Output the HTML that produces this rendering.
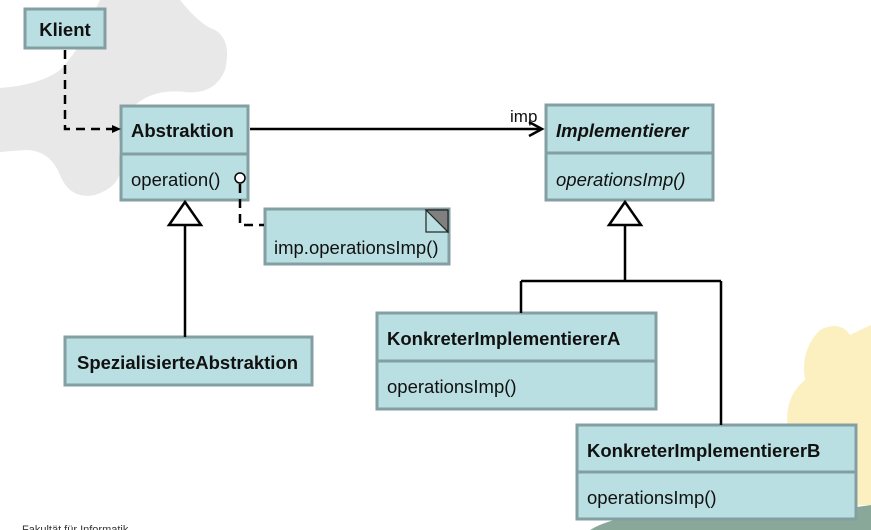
<!DOCTYPE html>
<html><head><meta charset="utf-8"><style>
html,body{margin:0;padding:0;background:#fff;}
svg{display:block;font-family:"Liberation Sans",Arial,sans-serif;}
</style></head><body>
<svg width="871" height="530" viewBox="0 0 871 530" xmlns="http://www.w3.org/2000/svg">
<path d="M100,0 L180,0 Q200,25 215,30 Q232,40 225,70 Q215,95 185,92 Q150,88 130,110 Q115,135 120,160 Q125,185 95,195 Q70,200 60,175 Q50,150 25,150 L0,152 L0,88 Q40,85 60,70 Q80,50 90,20 Z" fill="#e8e8e8"/>
<path d="M820,330 Q840,320 850,335 Q860,330 871,325 L871,505 L840,505 Q810,480 790,440 Q780,400 805,380 Q800,350 820,330 Z" fill="#fdf0c0"/>
<path d="M590,530 Q620,512 680,515 Q740,505 800,515 L871,505 L871,530 Z" fill="#8aa89a"/>
<text x="22" y="533" font-size="11" fill="#333">Fakultät für Informatik</text>

<g stroke="#839fa1" stroke-width="3" fill="#badfe2">
<rect x="25" y="9" width="80" height="39"/>
<rect x="121" y="106" width="127" height="94"/>
<line x1="121" y1="154" x2="248" y2="154"/>
<rect x="265" y="209" width="184" height="55"/>
<rect x="546" y="105" width="167" height="95"/>
<line x1="546" y1="153" x2="713" y2="153"/>
<rect x="65" y="337" width="247" height="48"/>
<rect x="377" y="313" width="279" height="96"/>
<line x1="377" y1="361" x2="656" y2="361"/>
<rect x="577" y="425" width="279" height="94"/>
<line x1="577" y1="472" x2="856" y2="472"/>
</g>
<rect x="426" y="210" width="22" height="22" fill="#badfe2" stroke="#222" stroke-width="1.2"/>
<polygon points="426,210 448,210 448,232" fill="#808080" stroke="#222" stroke-width="1.2"/>

<g font-size="18.5" fill="#111">
<text x="65" y="36" text-anchor="middle" font-weight="bold">Klient</text>
<text x="131" y="137" font-weight="bold">Abstraktion</text>
<text x="131" y="186">operation()</text>
<text x="274" y="254">imp.operationsImp()</text>
<text x="556" y="137" font-weight="bold" font-style="italic">Implementierer</text>
<text x="556" y="186" font-style="italic">operationsImp()</text>
<text x="77" y="369" font-weight="bold">SpezialisierteAbstraktion</text>
<text x="387" y="345" font-weight="bold">KonkreterImplementiererA</text>
<text x="387" y="393">operationsImp()</text>
<text x="587" y="457" font-weight="bold">KonkreterImplementiererB</text>
<text x="587" y="504">operationsImp()</text>
<text x="510" y="122" font-size="17">imp</text>
</g>

<g stroke="#000" stroke-width="2.5" fill="none">
<path d="M65,50 L65,129 L112,129" stroke-dasharray="9,6"/>
<line x1="250" y1="129" x2="541" y2="129"/>
<path d="M529,122 L542,129 L529,136"/>
<path d="M240,184 L240,225 L264,225" stroke-dasharray="9,6"/>
<line x1="185" y1="225" x2="185" y2="337"/>
<path d="M625,225 L625,281 M521,281 L721,281 M521,281 L521,313 M721,281 L721,425"/>
</g>
<polygon points="112,125 121,129 112,133" fill="#000"/>
<circle cx="240" cy="178" r="5" fill="#fff" stroke="#000" stroke-width="1.5"/>
<polygon points="185,202 201,225 169,225" fill="#fff" stroke="#000" stroke-width="2.5"/>
<polygon points="625,202 641,225 609,225" fill="#fff" stroke="#000" stroke-width="2.5"/>
</svg>
</body></html>
